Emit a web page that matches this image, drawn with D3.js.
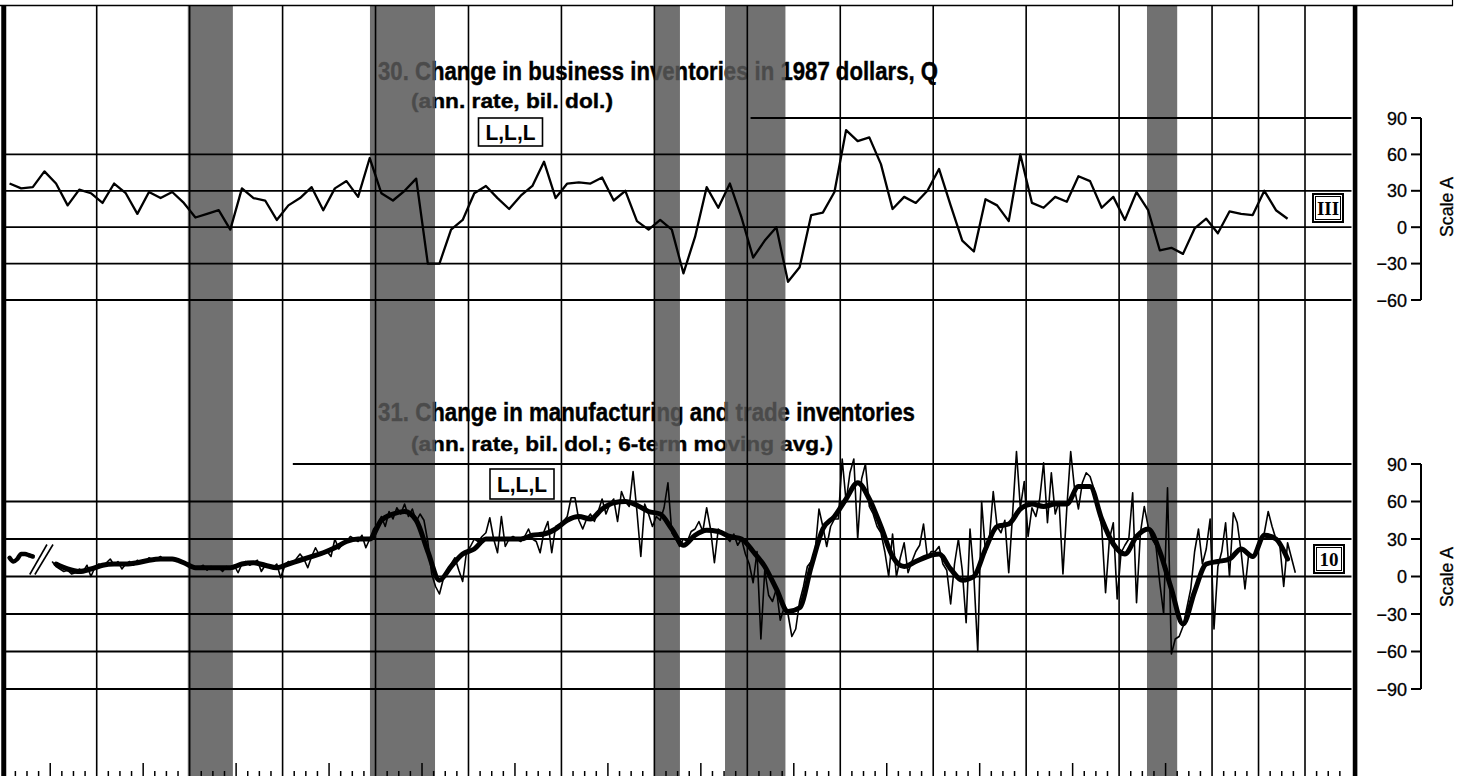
<!DOCTYPE html>
<html><head><meta charset="utf-8">
<script src="https://cdn.jsdelivr.net/npm/d3@7"></script>
<style>
html,body{margin:0;padding:0;background:#fff;}
svg{display:block;}
text{font-family:"Liberation Sans Narrow","Arial Narrow","Liberation Sans",Arial,sans-serif;}
</style></head><body>
<svg id="chart" width="1473" height="776"></svg>
<script>
// ---------------- DATA ----------------
// Series 30: change in business inventories in 1987 dollars, quarterly from 1966 Q1
const topStartYear = 1966;
const topValues = [
  36,32,33,46, 36,18,31,28, 20,36,28,11, 29,24,29,20, 8,11,14,-2, 32,24,22,6, 18,24,33,14, 32,38,25,57,
  28,22,30,40, -30,-30,-2,6, 28,34,24,15,
  26,34,54,24, 36,37,36,41, 22,30,5,-2, 6,-2,-38,-8, 33,16,36,8, -25,-11,0,-45, -33,10,12,29,
  80,71,74,52, 15,25,20,30, 48,18,-11,-20, 23,18,
  5,60, 20,16,25,21, 42,38,16,25, 6,29,14,-19, -17,-22,-1,7, -5,13,11,10, 30,14,7
];
// Series 31: change in manufacturing and trade inventories, monthly from Jan 1967
const rawStartYear = 1967;
const rawValues = [
  12,8,6,4,5,2,3,6,4,9,0,7,
  10,8,11,14,9,12,6,10,12,9,13,11,
  12,15,13,14,16,13,15,14,12,13,10,11,
  8,6,7,9,5,8,6,7,4,8,6,9,
  3,10,12,9,11,13,4,9,8,7,10,-1,
  8,12,10,14,18,14,7,16,23,17,18,20,
  16,30,22,26,28,32,30,28,33,23,30,38,
  42,48,40,52,46,55,50,58,48,54,44,50,
  45,28,2,-8,-14,-2,4,10,15,5,-4,20,
  24,30,28,32,35,47,30,19,48,24,30,32,
  30,28,32,38,30,28,19,36,44,19,40,42,
  44,48,63,63,45,38,46,50,44,52,62,50,
  58,62,44,68,60,56,84,52,16,58,50,40,
  48,45,55,75,35,30,24,30,28,36,38,44,
  36,55,38,11,38,35,32,28,34,25,30,18,
  10,-5,20,-50,5,-15,-20,-10,-35,-25,-30,-48,
  -42,-20,-8,8,12,20,54,40,24,40,46,46,
  94,60,83,94,30,78,90,56,50,40,35,20,
  0,34,0,15,27,3,12,20,25,42,15,20,
  20,24,10,5,-22,10,30,5,-37,38,0,-60,
  60,19,30,68,40,35,45,3,50,100,55,76,
  32,55,48,62,91,43,83,50,60,2,55,100,
  70,54,75,83,80,70,55,40,-13,30,43,-18,
  19,25,30,67,-21,35,56,40,30,25,-5,-30,
  71,-62,-50,-48,-40,-25,-10,20,38,10,22,46,
  -42,8,20,43,0,51,43,20,-10,19,15,20,
  30,35,52,40,30,25,-8,27,15,3
];
// short segment before the break (monthly, from Feb 1966)
const preBreakStart = 1966 + 1/12;
const preBreakValues = [15,12,14,18,18,17,16];
// 6-term moving average, read quarterly from 1967 Q1
const maStartYear = 1967;
const maValues = [
  10,6,4,6, 9,10,10,11, 13,14,14,11, 7,7,7,7, 10,11,9,7, 10,13,16,19, 23,28,30,30,
  45,50,52,45, 20,-3,8,18, 22,30,30,30, 30,33,34,38, 45,48,46,54, 59,60,57,52,
  50,38,25,33, 37,36,32,30, 20,8,-10,-28, -25,8,38,48, 62,75,62,40, 16,8,12,16,
  18,6,-3,0, 22,40,42,54, 58,56,58,58, 72,72,46,26, 18,32,38,20, -10,-38,-12,10,
  12,14,22,16, 33,30,14
];
// recessions (decimal years, peak to trough)
const recessions = [[1969.96,1970.93],[1973.88,1975.28],[1980.0,1980.55],[1981.52,1982.82],[1990.6,1991.25]];
const gridYears = [1968,1970,1972,1974,1976,1978,1980,1982,1984,1986,1988,1990,1992,1993,1994];
const topTicks = [90,60,30,0,-30,-60];
const bottomTicks = [90,60,30,0,-30,-60,-90];
const topTitle = ["30. Change in business inventories in 1987 dollars, Q", "(ann. rate, bil. dol.)"];
const bottomTitle = ["31. Change in manufacturing and trade inventories", "(ann. rate, bil. dol.; 6-term moving avg.)"];
const timingCode = "L,L,L";
const topBoxLabel = "III";
const bottomBoxLabel = "10";
const scaleLabel = "Scale A";

// ---------------- CHART ----------------
const svg = d3.select("#chart");
const x = d3.scaleLinear().domain([1968, 1994]).range([96.7, 1305]);
const yTop = d3.scaleLinear().domain([-60, 90]).range([300, 118]);
const yBot = d3.scaleLinear().domain([-90, 90]).range([689, 464]);
const X0 = x(1966), X1 = x(1995);

svg.append("rect").attr("width",1473).attr("height",776).attr("fill","#fff");

// titles (drawn beneath the shading, as in the print)
function title(lines, xs, ys, sizes, lens){
  lines.forEach((t,i)=>{
    svg.append("text").attr("x",xs[i]).attr("y",ys[i]).attr("font-size",sizes[i])
      .attr("font-weight","bold").attr("textLength",lens[i]).attr("lengthAdjust","spacingAndGlyphs")
      .attr("fill","#000").attr("stroke","#000").attr("stroke-width",0.4).text(t);
  });
}
title(topTitle, [378, 411], [80, 108], [25, 21], [560, 202]);
title(bottomTitle, [378, 411], [421, 451], [25, 21], [537, 422]);

// recession shading
svg.append("g").selectAll("rect").data(recessions).join("rect")
  .attr("x", d=>x(d[0])).attr("width", d=>x(d[1])-x(d[0]))
  .attr("y", 6).attr("height", 770)
  .attr("fill", "#585858").attr("opacity", 0.85);

// vertical grid
const g = svg.append("g").attr("stroke","#000");
g.selectAll("line.v").data(gridYears).join("line").attr("class","v")
  .attr("x1",d=>x(d)).attr("x2",d=>x(d)).attr("y1",6).attr("y2",776).attr("stroke-width",1.6);

// horizontal grid
const topGrid = topTicks.map(v=>({v, from: v===90 ? 1982.07 : 1966}));
const botGrid = bottomTicks.map(v=>({v, from: v===90 ? 1972.22 : 1966}));
g.selectAll("line.ht").data(topGrid).join("line").attr("class","ht")
  .attr("x1",d=>x(d.from)).attr("x2",X1).attr("y1",d=>yTop(d.v)).attr("y2",d=>yTop(d.v)).attr("stroke-width",1.8);
g.selectAll("line.hb").data(botGrid).join("line").attr("class","hb")
  .attr("x1",d=>x(d.from)).attr("x2",X1).attr("y1",d=>yBot(d.v)).attr("y2",d=>yBot(d.v)).attr("stroke-width",1.8);

// bottom time ticks (quarterly, taller at odd years)
const qticks = [];
for (let t = 1966.25; t < 1995; t += 0.25) {
  if (gridYears.includes(t)) continue;
  qticks.push(t);
}
g.selectAll("line.tk").data(qticks).join("line").attr("class","tk")
  .attr("x1",d=>x(d)).attr("x2",d=>x(d))
  .attr("y1",d=> Number.isInteger(d) ? 763 : 771).attr("y2",776).attr("stroke-width",1.5);

// frame
svg.append("line").attr("x1",0).attr("x2",1453).attr("y1",5.5).attr("y2",5.5).attr("stroke","#000").attr("stroke-width",1.6);
svg.append("line").attr("x1",1452.5).attr("x2",1452.5).attr("y1",0).attr("y2",6).attr("stroke","#000").attr("stroke-width",1.2);
svg.append("line").attr("x1",X0).attr("x2",X0).attr("y1",5).attr("y2",776).attr("stroke","#000").attr("stroke-width",5);
svg.append("line").attr("x1",X1+3.6).attr("x2",X1+3.6).attr("y1",5).attr("y2",776).attr("stroke","#000").attr("stroke-width",4.6);

// top series
const topPts = topValues.map((v,i)=>({t: topStartYear + (i+0.5)/4, v}));
svg.append("path").datum(topPts)
  .attr("d", d3.line().x(d=>x(d.t)).y(d=>yTop(d.v)))
  .attr("fill","none").attr("stroke","#000").attr("stroke-width",2.3).attr("stroke-linejoin","round");

// bottom series: raw monthly
const rawPts = rawValues.map((v,i)=>({t: rawStartYear + (i+0.5)/12, v}));
svg.append("path").datum(rawPts)
  .attr("d", d3.line().x(d=>x(d.t)).y(d=>yBot(d.v)))
  .attr("fill","none").attr("stroke","#000").attr("stroke-width",1.6).attr("stroke-linejoin","round");
// moving average
const maPts = maValues.map((v,i)=>({t: maStartYear + (i+0.5)/4, v}));
svg.append("path").datum(maPts)
  .attr("d", d3.line().curve(d3.curveMonotoneX).x(d=>x(d.t)).y(d=>yBot(d.v)))
  .attr("fill","none").attr("stroke","#000").attr("stroke-width",5).attr("stroke-linejoin","round").attr("stroke-linecap","round");
const prePts = preBreakValues.map((v,i)=>({t: preBreakStart + (i+0.5)/12, v}));
svg.append("path").datum(prePts)
  .attr("d", d3.line().curve(d3.curveMonotoneX).x(d=>x(d.t)).y(d=>yBot(d.v)))
  .attr("fill","none").attr("stroke","#000").attr("stroke-width",4.5).attr("stroke-linecap","round");
// break marks "//"
[[1966.56,1966.93],[1966.67,1967.06]].forEach(p=>{
  svg.append("line").attr("x1",x(p[0])).attr("y1",yBot(1.6)).attr("x2",x(p[1])).attr("y2",yBot(25.6))
    .attr("stroke","#000").attr("stroke-width",1.6);
});

// timing code boxes
function codeBox(cx, cy, w, h){
  svg.append("rect").attr("x",cx-w/2).attr("y",cy-h/2).attr("width",w).attr("height",h)
    .attr("fill","#fff").attr("stroke","#000").attr("stroke-width",1.6);
  svg.append("text").attr("x",cx).attr("y",cy+7.5).attr("text-anchor","middle")
    .attr("font-size",22).attr("font-weight","bold").attr("textLength",w-14).attr("lengthAdjust","spacingAndGlyphs")
    .text(timingCode);
}
codeBox(510.5, 132, 64, 28);
codeBox(522, 484, 64, 30);

// series number boxes
function numBox(cx, cy, label){
  svg.append("rect").attr("x",cx-15).attr("y",cy-14).attr("width",30).attr("height",28)
    .attr("fill","#fff").attr("stroke","#000").attr("stroke-width",2);
  svg.append("rect").attr("x",cx-12.5).attr("y",cy-11.5).attr("width",25).attr("height",23)
    .attr("fill","none").attr("stroke","#000").attr("stroke-width",1);
  svg.append("text").attr("x",cx).attr("y",cy+7).attr("text-anchor","middle")
    .style("font-family","'Liberation Serif','Times New Roman',serif")
    .attr("font-size",19).attr("font-weight","bold").text(label);
}
numBox(1328, 208, topBoxLabel);
numBox(1329, 559, bottomBoxLabel);

// right-hand scales
function scaleAxis(y, ticks, labelY){
  const ax = svg.append("g");
  ax.append("line").attr("x1",1421).attr("x2",1421).attr("y1",y(d3.max(ticks))).attr("y2",y(d3.min(ticks)))
    .attr("stroke","#000").attr("stroke-width",2);
  ax.selectAll("line.t").data(ticks).join("line").attr("class","t")
    .attr("x1",1411).attr("x2",1421).attr("y1",d=>y(d)).attr("y2",d=>y(d)).attr("stroke","#000").attr("stroke-width",2);
  ax.selectAll("text").data(ticks).join("text")
    .attr("x",1407).attr("y",d=>y(d)+6.5).attr("text-anchor","end").attr("font-size",18)
    .attr("stroke","#000").attr("stroke-width",0.3)
    .text(d=> d<0 ? "\u2212"+Math.abs(d) : d);
  svg.append("text").attr("transform",`translate(1453,${labelY}) rotate(-90)`)
    .attr("text-anchor","middle").attr("font-size",18.5).attr("stroke","#000").attr("stroke-width",0.3)
    .attr("textLength",60).attr("lengthAdjust","spacingAndGlyphs").text(scaleLabel);
}
scaleAxis(yTop, topTicks, 207);
scaleAxis(yBot, bottomTicks, 577);
</script>
</body></html>
